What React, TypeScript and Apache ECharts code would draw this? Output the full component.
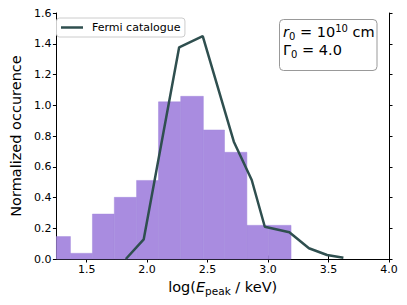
import React, { useEffect, useRef } from "react";
import * as echarts from "echarts";

// Histogram (simulation) bin edges and normalized heights
const binEdges = [1.183, 1.366, 1.548, 1.729, 1.913, 2.094, 2.278, 2.465, 2.640, 2.825, 3.006, 3.190];
const binHeights = [0.146, 0.037, 0.292, 0.401, 0.511, 1.022, 1.058, 0.839, 0.694, 0.219, 0.219];

// Fermi catalogue curve
const fermiX = [1.824, 1.972, 2.265, 2.460, 2.717, 2.865, 2.973, 3.176, 3.338, 3.488, 3.623];
const fermiY = [0.0, 0.128, 1.377, 1.450, 0.763, 0.514, 0.210, 0.174, 0.070, 0.026, 0.008];

const xTicks = [1.5, 2.0, 2.5, 3.0, 3.5, 4.0];
const X_MIN = 1.25;
const X_MAX = 4.0;
const Y_MIN = 0;
const Y_MAX = 1.6;
const Y_STEP = 0.2;

const FONT = "DejaVu Sans";

export default function App() {
  const ref = useRef<HTMLDivElement>(null);
  useEffect(() => {
    if (!ref.current) return;
    const chart = echarts.init(ref.current, undefined, { renderer: "svg" });
    const histData = binHeights.map((h, i) => [binEdges[i], binEdges[i + 1], h]);
    const lineData = fermiX.map((x, i) => [x, fermiY[i]]);
    const axisLine = { show: true, lineStyle: { color: "#000", width: 1 } };
    const tick = { show: true, inside: false, length: 3.5, lineStyle: { color: "#000", width: 1 } };
    chart.setOption({
      animation: false,
      textStyle: { fontFamily: FONT },
      grid: { left: 51, right: 18, top: 13, bottom: 46, containLabel: false },
      legend: {
        left: 56.5,
        top: 18,
        padding: [4, 4.5, 4, 4.5],
        borderColor: "#cccccc",
        borderWidth: 1,
        borderRadius: 3,
        backgroundColor: "rgba(255,255,255,0.8)",
        itemWidth: 22,
        itemHeight: 2.5,
        icon: "rect",
        data: ["Fermi catalogue"],
        textStyle: { fontSize: 11, color: "#000", fontFamily: FONT, padding: [0, 0, 0, 4] },
      },
      xAxis: [
        {
          type: "value",
          min: X_MIN,
          max: X_MAX,
          position: "bottom",
          axisLine,
          axisTick: { ...tick, customValues: xTicks },
          axisLabel: {
            customValues: xTicks,
            formatter: (v: number) => v.toFixed(1),
            fontSize: 11,
            color: "#000",
            margin: 5,
            fontFamily: FONT,
          },
          splitLine: { show: false },
          name: "{n|log(}{e|E}{s|peak}{n| / keV)}",
          nameLocation: "middle",
          nameGap: 16,
          nameTextStyle: {
            rich: {
              n: { fontSize: 14.5, color: "#000", fontFamily: FONT, lineHeight: 18 },
              e: { fontSize: 14.5, color: "#000", fontFamily: FONT, fontStyle: "italic", lineHeight: 18 },
              s: { fontSize: 10.5, color: "#000", fontFamily: FONT, lineHeight: 10, verticalAlign: "bottom" },
            },
          },
        },
        {
          type: "value",
          min: X_MIN,
          max: X_MAX,
          position: "top",
          axisLine,
          axisTick: { ...tick, customValues: xTicks },
          axisLabel: { show: false },
          splitLine: { show: false },
        },
      ],
      yAxis: [
        {
          type: "value",
          min: Y_MIN,
          max: Y_MAX,
          interval: Y_STEP,
          position: "left",
          axisLine,
          axisTick: tick,
          axisLabel: {
            formatter: (v: number) => v.toFixed(1),
            fontSize: 11,
            color: "#000",
            margin: 5,
            fontFamily: FONT,
          },
          splitLine: { show: false },
          name: "Normalized occurence",
          nameLocation: "middle",
          nameRotate: 90,
          nameGap: 28,
          nameTextStyle: { fontSize: 14.5, color: "#000", fontFamily: FONT },
        },
        {
          type: "value",
          min: Y_MIN,
          max: Y_MAX,
          interval: Y_STEP,
          position: "right",
          axisLine,
          axisTick: tick,
          axisLabel: { show: false },
          splitLine: { show: false },
        },
      ],
      series: [
        {
          type: "custom",
          name: "hist",
          xAxisIndex: 0,
          yAxisIndex: 0,
          encode: { x: [0, 1], y: 2 },
          data: histData,
          renderItem: (params: any, api: any) => {
            const x0 = Math.max(api.value(0), X_MIN);
            const p0 = api.coord([x0, 0]);
            const p1 = api.coord([api.value(1), api.value(2)]);
            return {
              type: "rect",
              shape: { x: p0[0], y: p1[1], width: p1[0] - p0[0], height: p0[1] - p1[1] },
              style: { fill: "#a98ce0", stroke: "#a288dc", lineWidth: 0.5 },
            };
          },
          z: 1,
        },
        {
          type: "line",
          name: "Fermi catalogue",
          xAxisIndex: 0,
          yAxisIndex: 0,
          data: lineData,
          showSymbol: false,
          symbol: "none",
          lineStyle: { color: "#2f4f4f", width: 2.5 },
          itemStyle: { color: "#2f4f4f" },
          z: 3,
        },
      ],
      graphic: [
        {
          type: "rect",
          left: 279,
          top: 19,
          shape: { width: 97.5, height: 51, r: 4 },
          style: { fill: "#fff", stroke: "#999", lineWidth: 1 },
          z: 10,
        },
        {
          type: "text",
          left: 283,
          top: 23,
          z: 11,
          style: {
            text: "{it|r}{sub|0}{n| = 10}{sup|10}{n| cm}\n{n|Γ}{sub|0}{n| = 4.0}",
            fill: "#000",
            rich: {
              n: { fontSize: 14.5, fontFamily: FONT, lineHeight: 18, fill: "#000" },
              it: { fontSize: 14.5, fontFamily: FONT, fontStyle: "italic", lineHeight: 18, fill: "#000" },
              sub: { fontSize: 10, fontFamily: FONT, lineHeight: 10, verticalAlign: "bottom", fill: "#000" },
              sup: { fontSize: 10, fontFamily: FONT, lineHeight: 10, verticalAlign: "top", fill: "#000" },
            },
          },
        },
      ],
    });
    return () => chart.dispose();
  }, []);
  return (
    <div
      ref={ref}
      style={{ position: "fixed", left: 0, top: 0, width: 407, height: 305, background: "#fff" }}
    />
  );
}
